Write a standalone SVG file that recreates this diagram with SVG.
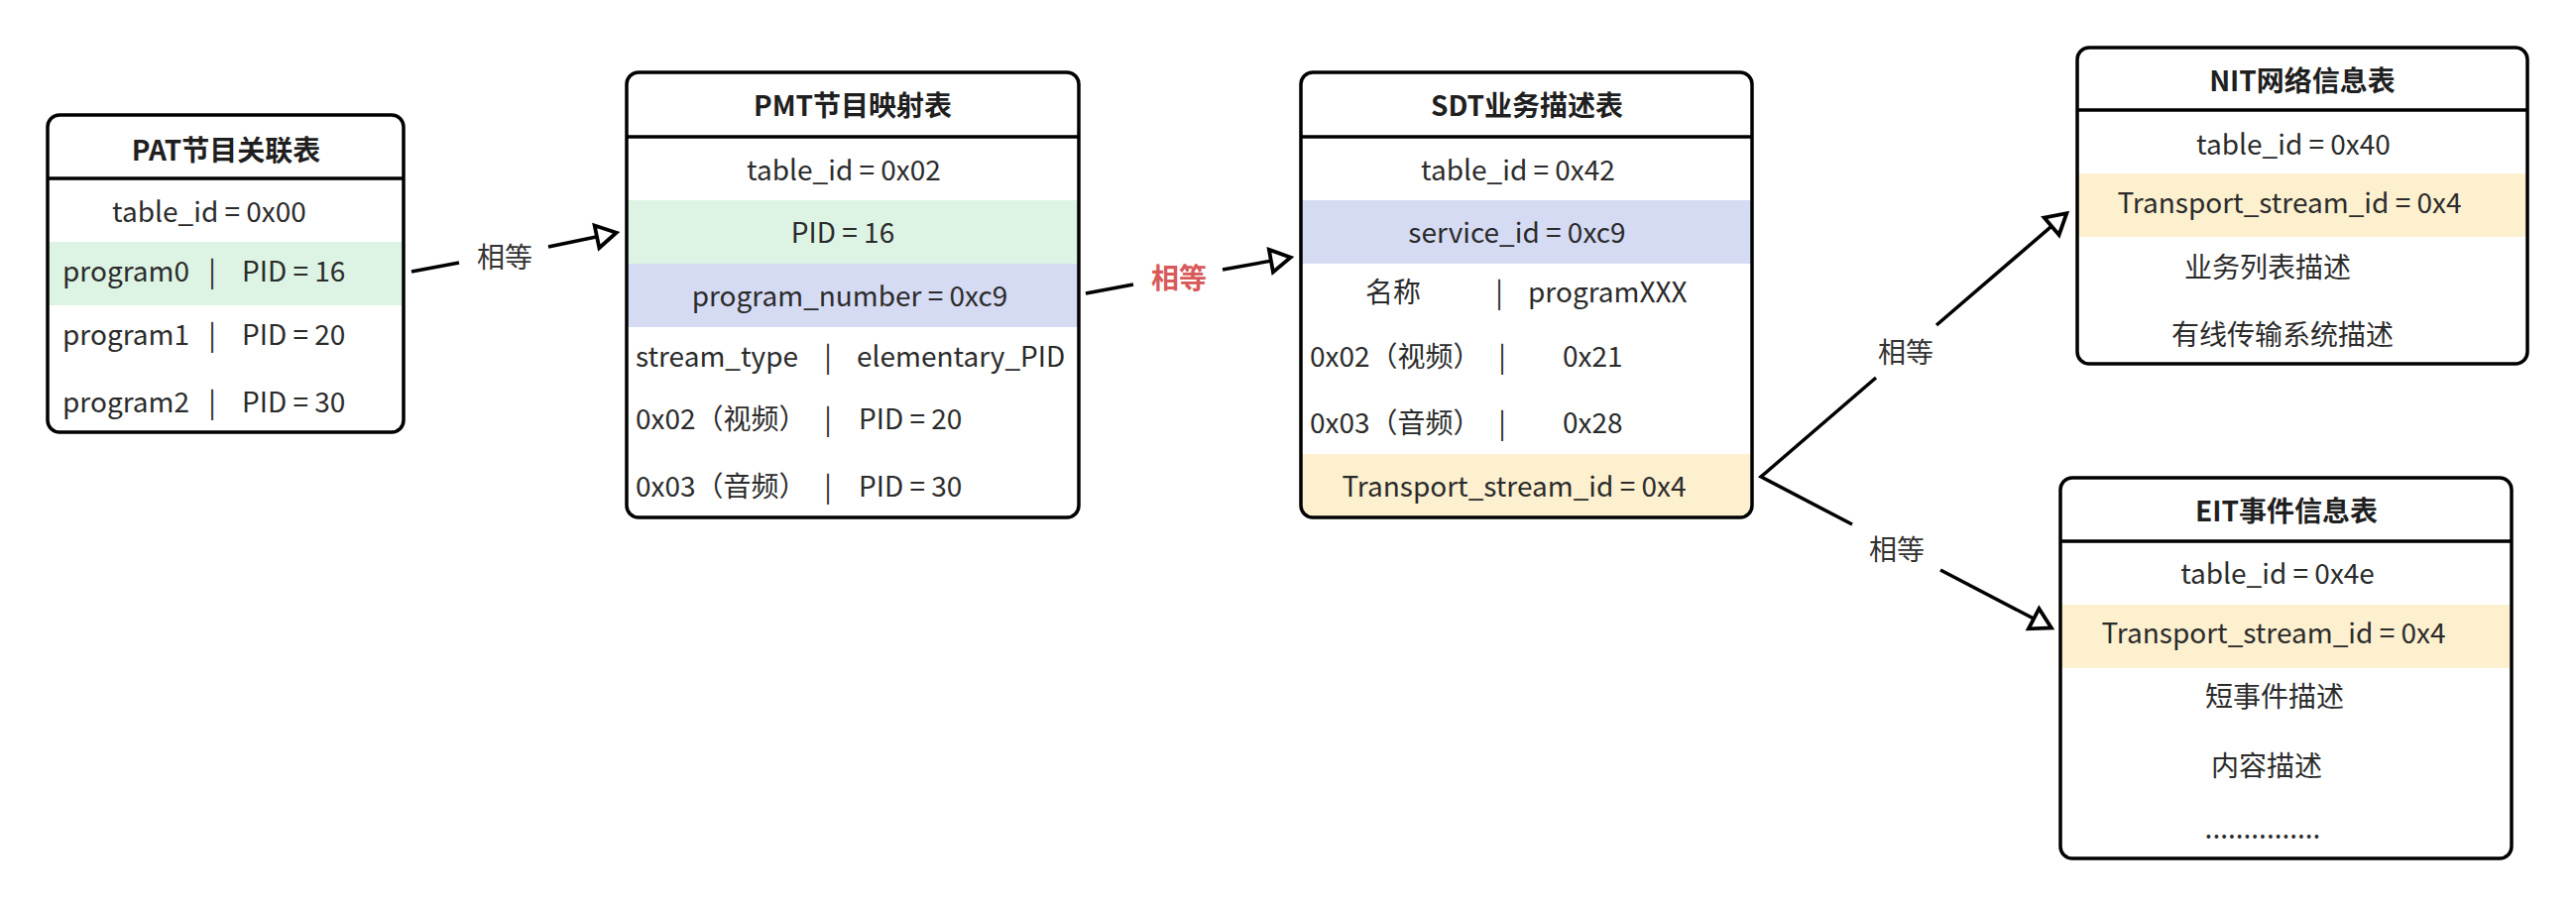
<svg xmlns="http://www.w3.org/2000/svg" width="2598" height="914" viewBox="0 0 2598 914">
<style>
.t{font-family:"Noto Sans CJK SC","Noto Sans",sans-serif;font-size:28px;fill:#2b2b2b}
.h{font-weight:bold;fill:#1f1f1f;text-anchor:middle}
.c{text-anchor:middle}
.bg{fill:#ffffff}
.bd{fill:none;stroke:#000;stroke-width:3.5}
.dv{stroke:#000;stroke-width:3.5}
.g{fill:#ddf4e4}
.b{fill:#d6dbf4}
.y{fill:#fdf0cf}
.conn{fill:none;stroke:#000;stroke-width:3.5;stroke-linejoin:miter}
.lbl{font-family:"Noto Sans CJK SC","Noto Sans",sans-serif;font-size:28px;fill:#333;text-anchor:middle}
.red{fill:#d85a5a;font-weight:bold}
</style>
<defs>
<marker id="arr" markerUnits="userSpaceOnUse" markerWidth="40" markerHeight="40" refX="0" refY="0" orient="auto" overflow="visible" viewBox="-30 -20 40 40">
<path d="M-20,-11.5 L0,0 L-20,11.5 Z" fill="#fff" stroke="#000" stroke-width="3.8" stroke-linejoin="miter"/>
</marker>
<clipPath id="clipSDT"><rect x="1312" y="73" width="455" height="449" rx="12"/></clipPath>
</defs>
<rect width="2598" height="914" fill="#fff"/>

<g id="conns">
<path class="conn" d="M415,274 L463,265 M553,249 L621.6,234.7" marker-end="url(#arr)"/>
<path class="conn" d="M1095,296 L1143,287 M1233,272 L1301.6,259.6" marker-end="url(#arr)"/>
<path class="conn" d="M1892,381 L1776,481 L1868,529"/>
<path class="conn" d="M1953,328 L2084.3,215.2" marker-end="url(#arr)"/>
<path class="conn" d="M1957,575 L2068.9,633.4" marker-end="url(#arr)"/>
<text class="lbl" x="509" y="270">相等</text>
<text class="lbl red" x="1189" y="291">相等</text>
<text class="lbl" x="1922" y="366">相等</text>
<text class="lbl" x="1913" y="565">相等</text>
</g>

<g id="PAT">
<rect class="bg" x="48" y="116" width="359" height="320" rx="12"/>
<rect class="g" x="48" y="244" width="359" height="64"/>
<text class="t h" x="228" y="162">PAT节目关联表</text>
<text class="t c" x="211" y="224">table_id = 0x00</text>
<text class="t" y="284"><tspan x="63">program0</tspan><tspan x="214" text-anchor="middle">|</tspan><tspan x="244">PID = 16</tspan></text>
<text class="t" y="348"><tspan x="63">program1</tspan><tspan x="214" text-anchor="middle">|</tspan><tspan x="244">PID = 20</tspan></text>
<text class="t" y="416"><tspan x="63">program2</tspan><tspan x="214" text-anchor="middle">|</tspan><tspan x="244">PID = 30</tspan></text>
<line class="dv" x1="48" y1="180" x2="407" y2="180"/>
<rect class="bd" x="48" y="116" width="359" height="320" rx="12"/>
</g>

<g id="PMT">
<rect class="bg" x="632" y="73" width="456" height="449" rx="12"/>
<rect class="g" x="632" y="202" width="456" height="64"/>
<rect class="b" x="632" y="266" width="456" height="64"/>
<text class="t h" x="860" y="117">PMT节目映射表</text>
<text class="t c" x="851" y="182">table_id = 0x02</text>
<text class="t c" x="850" y="245">PID = 16</text>
<text class="t c" x="857" y="309">program_number = 0xc9</text>
<text class="t" y="370"><tspan x="641">stream_type</tspan><tspan x="835" text-anchor="middle">|</tspan><tspan x="864">elementary_PID</tspan></text>
<text class="t" y="433"><tspan x="641">0x02（视频）</tspan><tspan x="835" text-anchor="middle">|</tspan><tspan x="866">PID = 20</tspan></text>
<text class="t" y="501"><tspan x="641">0x03（音频）</tspan><tspan x="835" text-anchor="middle">|</tspan><tspan x="866">PID = 30</tspan></text>
<line class="dv" x1="632" y1="138" x2="1088" y2="138"/>
<rect class="bd" x="632" y="73" width="456" height="449" rx="12"/>
</g>

<g id="SDT">
<rect class="bg" x="1312" y="73" width="455" height="449" rx="12"/>
<g clip-path="url(#clipSDT)">
<rect class="b" x="1312" y="202" width="455" height="64"/>
<rect class="y" x="1312" y="458" width="455" height="64"/>
</g>
<text class="t h" x="1540" y="117">SDT业务描述表</text>
<text class="t c" x="1531" y="182">table_id = 0x42</text>
<text class="t c" x="1530" y="245">service_id = 0xc9</text>
<text class="t" y="305"><tspan x="1377">名称</tspan><tspan x="1512" text-anchor="middle">|</tspan><tspan x="1541">programXXX</tspan></text>
<text class="t" y="370"><tspan x="1321">0x02（视频）</tspan><tspan x="1515" text-anchor="middle">|</tspan><tspan x="1576">0x21</tspan></text>
<text class="t" y="437"><tspan x="1321">0x03（音频）</tspan><tspan x="1515" text-anchor="middle">|</tspan><tspan x="1576">0x28</tspan></text>
<text class="t c" x="1527" y="501">Transport_stream_id = 0x4</text>
<line class="dv" x1="1312" y1="138" x2="1767" y2="138"/>
<rect class="bd" x="1312" y="73" width="455" height="449" rx="12"/>
</g>

<g id="NIT">
<rect class="bg" x="2095" y="48" width="454" height="319" rx="12"/>
<rect class="y" x="2095" y="175" width="454" height="64"/>
<text class="t h" x="2322" y="92">NIT网络信息表</text>
<text class="t c" x="2313" y="156">table_id = 0x40</text>
<text class="t c" x="2309" y="215">Transport_stream_id = 0x4</text>
<text class="t c" x="2287" y="280">业务列表描述</text>
<text class="t c" x="2302" y="348">有线传输系统描述</text>
<line class="dv" x1="2095" y1="111" x2="2549" y2="111"/>
<rect class="bd" x="2095" y="48" width="454" height="319" rx="12"/>
</g>

<g id="EIT">
<rect class="bg" x="2078" y="482" width="455" height="384" rx="12"/>
<rect class="y" x="2078" y="610" width="455" height="64"/>
<text class="t h" x="2306" y="526">EIT事件信息表</text>
<text class="t c" x="2297" y="589">table_id = 0x4e</text>
<text class="t c" x="2293" y="649">Transport_stream_id = 0x4</text>
<text class="t c" x="2294" y="713">短事件描述</text>
<text class="t c" x="2286" y="783">内容描述</text>
<text class="t c" x="2282" y="846">...............</text>
<line class="dv" x1="2078" y1="546" x2="2533" y2="546"/>
<rect class="bd" x="2078" y="482" width="455" height="384" rx="12"/>
</g>
</svg>
